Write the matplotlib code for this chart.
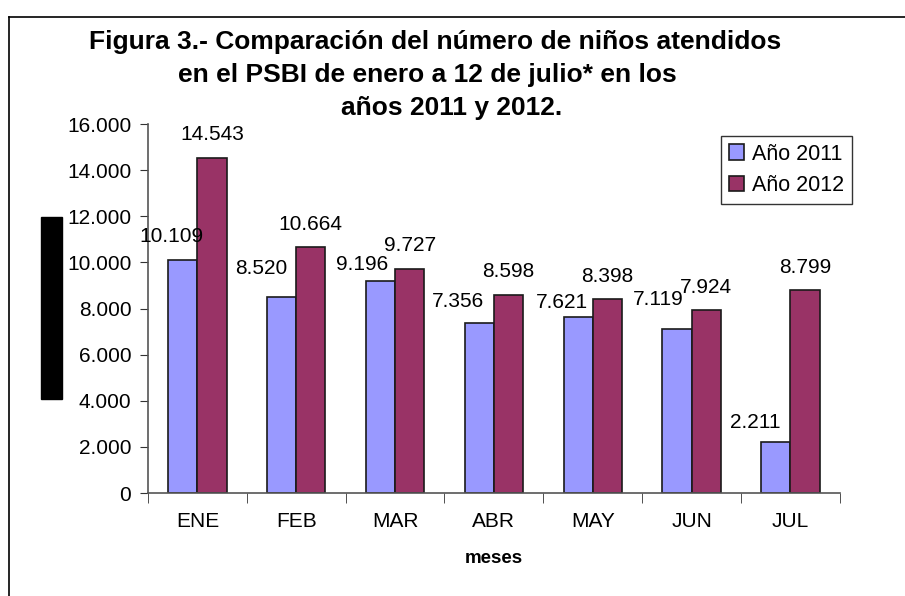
import numpy as np
import matplotlib
matplotlib.use("Agg")
import matplotlib.pyplot as plt
from matplotlib.patches import Rectangle
from matplotlib.lines import Line2D

plt.rcParams['font.family'] = ['Liberation Sans', 'DejaVu Sans']

meses = ["ENE", "FEB", "MAR", "ABR", "MAY", "JUN", "JUL"]
anio_2011 = [10109, 8520, 9196, 7356, 7621, 7119, 2211]
anio_2012 = [14543, 10664, 9727, 8598, 8398, 7924, 8799]
yticks = [0, 2000, 4000, 6000, 8000, 10000, 12000, 14000, 16000]

# label offsets (pixels) for the 2011 values, placed by hand in the original
off_2011 = [(-11, 23), (-20, 28), (-18, 16), (-21, 22), (-16, 15), (-19, 29), (-21, 20)]

col_2011 = "#9999FF"
col_2012 = "#993366"

def miles(v):
    return "{:,}".format(int(v)).replace(",", ".")

fig = plt.figure(figsize=(9.05, 5.96), dpi=100)
ax = fig.add_axes([0.1635, 0.1728, 0.7645, 0.6191])

x = np.arange(len(meses))
w = 0.295
ax.bar(x - w / 2, anio_2011, w, color=col_2011, edgecolor="#1a1a1a", linewidth=1.2, label="Año 2011")
ax.bar(x + w / 2, anio_2012, w, color=col_2012, edgecolor="#1a1a1a", linewidth=1.2, label="Año 2012")

for xi, v, (dx, dy) in zip(x, anio_2011, off_2011):
    ax.annotate(miles(v), (xi - w / 2, v), xytext=(dx, dy), textcoords="offset pixels",
                ha="center", va="center", fontsize=15)
for xi, v in zip(x, anio_2012):
    ax.annotate(miles(v), (xi + w / 2, v), xytext=(0, 23), textcoords="offset pixels",
                ha="center", va="center", fontsize=15)

ax.set_xlim(-0.5, len(meses) - 0.5)
ax.set_ylim(0, 16000)
ax.set_yticks(yticks)
ax.set_yticklabels([miles(t) for t in yticks], fontsize=15)
ax.set_xticks(x)
ax.set_xticklabels(meses, fontsize=15)
ax.tick_params(axis="x", which="major", length=0, pad=14)
ax.set_xticks(np.arange(len(meses) + 1) - 0.5, minor=True)
ax.tick_params(axis="x", which="minor", length=7, direction="out", color="#333333")
ax.tick_params(axis="y", length=6, direction="out", color="#333333", pad=6)
for s in ["top", "right"]:
    ax.spines[s].set_visible(False)
for s in ["left", "bottom"]:
    ax.spines[s].set_color("#555555")
    ax.spines[s].set_linewidth(1.2)
ax.set_xlabel("meses", fontsize=13.5, fontweight="bold", labelpad=13)

titulo = ["Figura 3.- Comparación del número de niños atendidos",
          "en el PSBI de enero a 12 de julio* en los",
          "años 2011 y 2012."]
centros = [435, 427, 452]
for i, (linea, cx) in enumerate(zip(titulo, centros)):
    fig.text(cx / 905, 1 - (42 + 33 * i) / 596, linea, ha="center", va="center",
             fontsize=19, fontweight="bold")

leg = ax.legend(loc="upper left", bbox_to_anchor=(721 / 905, 1 - 136 / 596),
                bbox_transform=fig.transFigure, fontsize=15.5, frameon=True,
                fancybox=False, edgecolor="black", handlelength=0.7, handleheight=0.7,
                borderpad=0.35, labelspacing=0.5, handletextpad=0.4, borderaxespad=0)
leg.get_frame().set_linewidth(1.0)

# black block on the left and chart-area border
fig.patches.append(Rectangle((41 / 905, 1 - 399 / 596), 21 / 905, 182 / 596,
                             transform=fig.transFigure, color="black", zorder=5))
fig.lines.append(Line2D([8.5 / 905, 8.5 / 905], [0, 1 - 17 / 596], transform=fig.transFigure,
                        color="black", linewidth=1.2))
fig.lines.append(Line2D([8.5 / 905, 1], [1 - 17 / 596, 1 - 17 / 596], transform=fig.transFigure,
                        color="black", linewidth=1.2))

fig.savefig("out.png", dpi=100)
